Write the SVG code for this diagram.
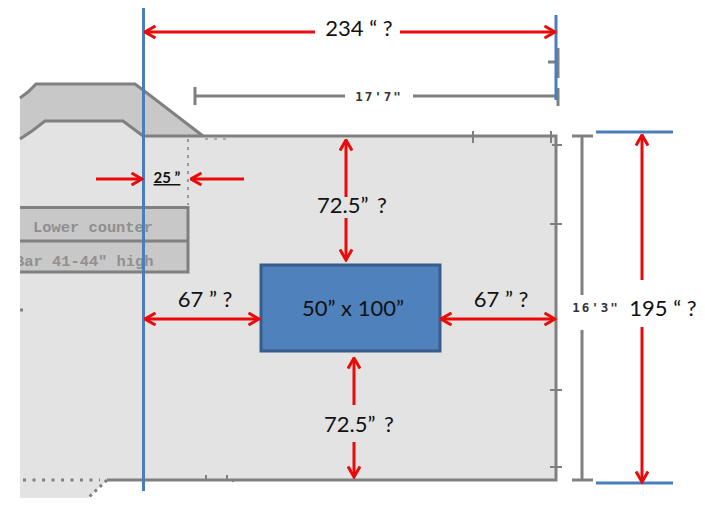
<svg xmlns="http://www.w3.org/2000/svg" width="705" height="509" viewBox="0 0 705 509">
<style>
.g{fill:none;stroke:#808080;stroke-width:3}
.t{fill:none;stroke:#808080;stroke-width:2}
.b{fill:none;stroke:#4a7ebb;stroke-width:3}
.r{fill:none;stroke:#ea0a0a;stroke-width:3;marker-end:url(#a)}
.l{font-family:Lato,"Liberation Sans",sans-serif;font-size:22px;fill:#111;text-anchor:middle}
.w{word-spacing:3px}
.m{font-family:"DejaVu Sans Mono","Liberation Mono",monospace;font-weight:700;font-size:12.500px;fill:#333;text-anchor:middle;letter-spacing:2px}
.c{font-family:"Liberation Mono","DejaVu Sans Mono",monospace;font-weight:700;font-size:15.400px;fill:#8f8f8f}
</style>
<defs>
<marker id="a" viewBox="0 0 14 14" refX="12.5" refY="7" markerWidth="14" markerHeight="14" markerUnits="userSpaceOnUse" orient="auto">
<path d="M2 1L12.5 7L2 13" fill="none" stroke="#ea0a0a" stroke-width="3"/>
</marker>
<clipPath id="cc"><rect x="20" y="241" width="168" height="31"/></clipPath>
</defs>
<g id="floor">
<path d="M20 139L45 121H123L143 136H556V480H107L88 498H20Z" fill="#e3e3e3"/>
<path d="M20 98L36 84H135L143 90L203 136H143L123 121H45L20 139Z" fill="#c8c8c8"/>
<path class="g" d="M20 98L28 92L36 84H135L143 90L203 136"/>
<path class="g" d="M20 139L32 131L45 121H123L143 136H556V480H107"/>
<path d="M107 480L88 498" fill="none" stroke="#808080" stroke-width="3" stroke-dasharray="3 4"/>
<path d="M23 480H100" fill="none" stroke="#808080" stroke-width="3" stroke-dasharray="3 6.500"/>
<path d="M188 139V205" fill="none" stroke="#808080" stroke-width="1.500" stroke-dasharray="3 5"/>
<path d="M205 139H229" fill="none" stroke="#999" stroke-width="1.500" stroke-dasharray="3 6"/>
<path class="t" d="M473 131V143M551 131V143M552 145H562M550 224H562M550 390H562M550 467H562M206 475V480M227 475V480M233 480V482"/>
<path d="M20 310H26" fill="none" stroke="#808080" stroke-width="3" stroke-dasharray="3 3"/>
</g>
<g id="counter">
<rect x="20" y="207" width="168" height="33.500" fill="#c8c8c8"/>
<rect x="20" y="241" width="168" height="31" fill="#c8c8c8"/>
<path class="g" d="M20 207.500H188V272H20M20 241H188"/>
<text class="c" x="33" y="232">Lower counter</text>
<text class="c" x="15" y="266" clip-path="url(#cc)">Bar 41-44" high</text>
</g>
<g id="dim-17-7">
<path class="g" d="M195 87V105M195 96H345M413 96H556"/>
<path class="g" d="M548 62H557M558 48V78M558 88V106"/>
<text class="m" x="379" y="101">17'7"</text>
</g>
<g id="dim-16-3">
<path class="g" d="M572 136H593M582 136V295M582 330V480M572 480H593"/>
<text class="m" x="596" y="312">16'3"</text>
</g>
<g id="table">
<rect x="261" y="265" width="179" height="86" fill="#4f81bd" stroke="#385d8a" stroke-width="3"/>
<text class="l" x="353" y="316">50” x 100”</text>
</g>
<g id="connectors">
<path class="b" d="M143.500 8V491M556 15V100M596 132H673M596 483H673"/>
<path class="r" d="M315 32H145"/>
<path class="r" d="M400 32H555"/>
<path class="r" d="M96 179H142"/>
<path class="r" d="M244 179H191"/>
<path class="r" d="M346 197V140"/>
<path class="r" d="M346 218V260"/>
<path class="r" d="M205 319H145"/>
<path class="r" d="M205 319H259"/>
<path class="r" d="M497 319H441"/>
<path class="r" d="M497 319H555"/>
<path class="r" d="M354 405V358"/>
<path class="r" d="M354 442V477"/>
<path class="r" d="M642 280V135"/>
<path class="r" d="M642 327V482"/>
</g>
<g id="labels">
<text class="l" x="359" y="36">234 “ ?</text>
<text class="l w" x="352" y="213">72.5” ?</text>
<text class="l" x="205" y="307">67 ” ?</text>
<text class="l" x="501" y="307">67 ” ?</text>
<text class="l w" x="359" y="432">72.5” ?</text>
<text class="l" x="663" y="316">195 “ ?</text>
<text x="167" y="183" font-family="Lato,Liberation Sans,sans-serif" font-size="15" font-weight="700" fill="#111" text-anchor="middle" text-decoration="underline">25 ”</text>
</g>
</svg>
